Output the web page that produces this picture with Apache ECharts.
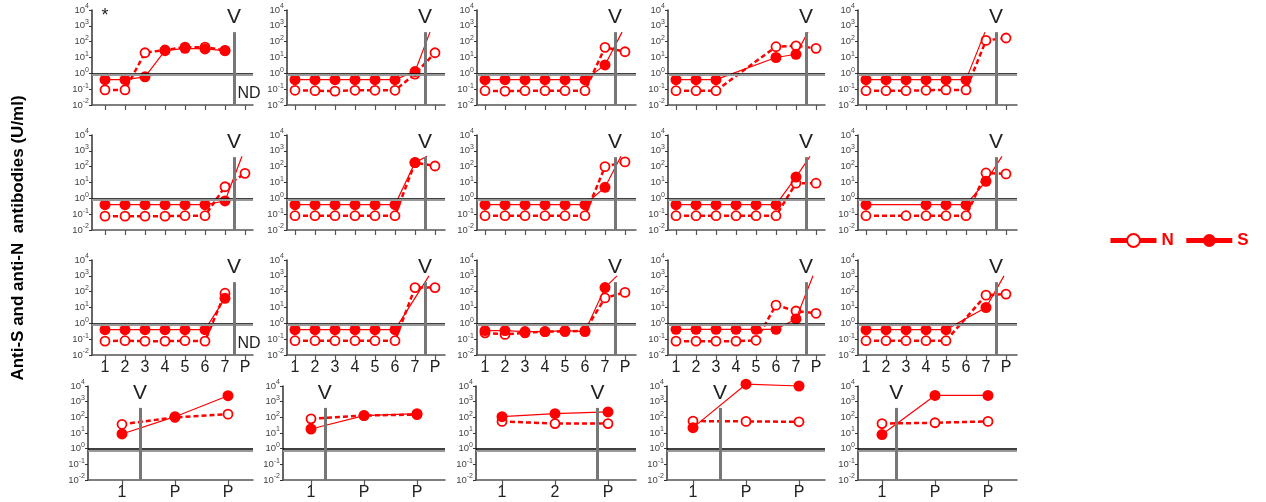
<!DOCTYPE html>
<html>
<head>
<meta charset="utf-8">
<script src="https://cdn.jsdelivr.net/npm/echarts@6/dist/echarts.min.js"></script>
<style>html,body{margin:0;background:#fff}#chart{width:1266px;height:502px}</style>
</head>
<body>
<div id="chart"></div>
<script>
// x labels: days 1..7 and P (post), P is drawn at position 8
var dayLabels = ['1', '2', '3', '4', '5', '6', '7', 'P'];
var postLabels = [['1', 'P', 'P'], ['1', 'P', 'P'], ['1', '2', 'P'], ['1', 'P', 'P'], ['1', 'P', 'P']];

// rows 1-3, 15 panels, values for days 1..7 and P (null = no sample)
var sDays = [
  [0.4, 0.4, 0.6, 27, 38, 35, 27, null],
  [0.4, 0.4, 0.4, 0.4, 0.4, 0.4, 1.3, null],
  [0.4, 0.4, 0.4, 0.4, 0.4, 0.4, 3.4, null],
  [0.4, 0.4, 0.4, null, null, 10, 16, null],
  [0.4, 0.4, 0.4, 0.4, 0.4, 0.4, null, null],
  [0.4, 0.4, 0.4, 0.4, 0.4, 0.4, 0.68, null],
  [0.4, 0.4, 0.4, 0.4, 0.4, 0.4, 180, null],
  [0.4, 0.4, 0.4, 0.4, 0.4, 0.4, 5, null],
  [0.4, 0.4, 0.4, 0.4, 0.4, 0.4, 22, null],
  [0.4, null, null, 0.4, 0.4, 0.4, 12, null],
  [0.4, 0.4, 0.4, 0.4, 0.4, 0.4, 38, null],
  [0.4, 0.4, 0.4, 0.4, 0.4, 0.4, null, null],
  [0.35, 0.35, 0.3, 0.3, 0.35, 0.3, 180, null],
  [0.42, 0.42, 0.42, 0.42, 0.42, 0.42, 1.9, null],
  [0.4, 0.4, 0.4, 0.4, 0.4, null, 10, null]
];
var nDays = [
  [0.09, 0.09, 20, 30, 45, 45, 28, null],
  [0.085, 0.08, 0.075, 0.085, 0.085, 0.085, 0.9, 20],
  [0.08, 0.075, 0.08, 0.08, 0.08, 0.08, 44, 23],
  [0.08, 0.08, 0.08, null, null, 48, 55, 38],
  [0.08, 0.08, 0.08, 0.085, 0.09, 0.09, 120, 170],
  [0.075, 0.075, 0.075, 0.075, 0.08, 0.08, 5.4, 38],
  [0.08, 0.08, 0.08, 0.08, 0.08, 0.08, 180, 110],
  [0.08, 0.08, 0.08, 0.08, 0.08, 0.08, 100, 200],
  [0.08, 0.08, 0.08, 0.08, 0.08, 0.08, 9, 9],
  [0.08, null, 0.08, 0.08, 0.08, 0.08, 40, 35],
  [0.075, 0.08, 0.075, 0.075, 0.08, 0.075, 80, null],
  [0.08, 0.08, 0.08, 0.08, 0.08, 0.08, 180, 180],
  [0.25, 0.2, 0.25, 0.3, 0.3, 0.35, 40, 90],
  [0.075, 0.075, 0.075, 0.075, 0.085, 14, 6, 4.3],
  [0.08, 0.08, 0.08, 0.08, 0.08, null, 60, 70]
];
// where the off-scale anti-S line leaves the panel [x, value]
var sExit = [
  null, [7.75, 400], [7.85, 400], [7.6, 400], [6.95, 400],
  [7.85, 450], [7.6, 450], [7.8, 450], [7.7, 450], [7.8, 450],
  null, [7.7, 1000], [7.6, 1000], [7.85, 1000], [7.9, 1000]
];
// row 4, three samples each
var sPost = [[8.7, 110, 2400], [18, 130, 170], [110, 170, 220], [22, 13000, 10000], [8, 2500, 2500]];
var nPost = [[36, 100, 160], [80, 130, 150], [55, 40, 40], [58, 55, 52], [40, 45, 55]];
// vaccination mark position
var vDays = [7.45, 7.5, 7.5, 7.5, 7.5];
var vPost = [1.34, 1.26, 2.8, 1.51, 1.27];

var RED = '#ff0000';
var FONT = 'Arial, "Liberation Sans", sans-serif';

var rowTop = [10, 135, 260, 386];
var rowH = [95, 95, 95, 94];
var colLeft = [92, 287, 477, 668, 858];
var colRight = [253, 445, 636, 825, 1017];
var colTick1 = [105, 295, 485, 676, 866];
var colLeft4 = [88, 283, 476, 667, 858];
var colTick14 = [122, 311, 502, 693, 882];

var grid = [], xAxis = [], yAxis = [], series = [];

function yLabel(v) {
  var e = Math.round(Math.log10(v));
  return '{b|10}{s|' + e + '}';
}

function addPanel(idx, row, col, sVals, nVals, exitPt, vx, labels, ticks, step, left, tick1, extra) {
  var right = colRight[col];
  grid.push({left: left, top: rowTop[row], width: right - left, height: rowH[row]});
  xAxis.push({
    gridIndex: idx, type: 'value',
    min: 1 - (tick1 - left) / step, max: 1 + (right - tick1) / step,
    axisLine: {lineStyle: {color: '#555', width: 1.5}},
    axisTick: {customValues: ticks, length: 5, lineStyle: {color: '#555', width: 1.2}},
    axisLabel: {
      show: row >= 2, customValues: ticks, margin: 5,
      fontSize: 16, color: '#222', fontFamily: FONT,
      formatter: function (v) { return labels[Math.round(v) - 1]; }
    },
    splitLine: {show: false}
  });
  yAxis.push({
    gridIndex: idx, type: 'log', logBase: 10, min: 0.01, max: 10000,
    axisLine: {show: true, lineStyle: {color: '#333', width: 1.5}},
    axisTick: {show: true, length: 3, lineStyle: {color: '#333'}},
    minorTick: {show: false},
    axisLabel: {
      margin: 3, formatter: yLabel,
      rich: {
        b: {fontSize: 9.5, color: '#444', fontFamily: FONT},
        s: {fontSize: 7, color: '#444', fontFamily: FONT, padding: [0, 0, 7, 0]}
      }
    },
    splitLine: {show: false}
  });
  var sData = [], nData = [];
  for (var i = 0; i < sVals.length; i++) {
    sData.push([ticks[i], sVals[i]]);
    nData.push([ticks[i], nVals[i]]);
  }
  if (exitPt) sData.push({value: exitPt, symbol: 'none'});
  var marks = [
    {yAxis: 1, lineStyle: {color: '#000', width: 1.5, type: 'solid'}},
    {yAxis: 0.78, lineStyle: {color: '#999', width: 2, type: 'solid'}},
    [{coord: [vx, 0.01], lineStyle: {color: '#777', width: 3, type: 'solid'},
      label: {show: true, position: 'end', formatter: 'V', fontSize: 21, color: '#222', fontFamily: FONT, distance: 4}},
     {coord: [vx, 400]}]
  ];
  series.push({
    type: 'line', name: 'N', xAxisIndex: idx, yAxisIndex: idx,
    data: nData, connectNulls: true, clip: false,
    symbol: 'circle', symbolSize: 9,
    itemStyle: {color: '#fff', borderColor: RED, borderWidth: 1.8},
    lineStyle: {color: RED, width: 2.5, type: [5, 3]},
    markLine: {silent: true, symbol: 'none', animation: false, label: {show: false}, data: marks},
    markPoint: extra ? {silent: true, symbol: 'circle', symbolSize: 1,
      itemStyle: {color: 'rgba(0,0,0,0)', borderWidth: 0}, animation: false, data: extra} : undefined,
    animation: false, z: 2
  });
  series.push({
    type: 'line', name: 'S', xAxisIndex: idx, yAxisIndex: idx,
    data: sData, connectNulls: true, clip: false,
    symbol: 'circle', symbolSize: 11,
    itemStyle: {color: RED},
    lineStyle: {color: RED, width: 1.2},
    animation: false, z: 3
  });
}

var idx = 0;
var dayTicks = [1, 2, 3, 4, 5, 6, 7, 8];
for (var r = 0; r < 3; r++) {
  for (var c = 0; c < 5; c++) {
    var k = r * 5 + c;
    var extra = null;
    var lbl = {show: true, position: 'inside', fontSize: 16, color: '#222', fontFamily: FONT};
    if (k === 0) extra = [{coord: [8.2, 0.055], label: Object.assign({}, lbl, {formatter: 'ND'})},
                          {coord: [1, 4000], label: Object.assign({}, lbl, {formatter: '*', fontSize: 18})}];
    if (k === 10) extra = [{coord: [8.2, 0.055], label: Object.assign({}, lbl, {formatter: 'ND'})}];
    addPanel(idx, r, c, sDays[k], nDays[k], sExit[k], vDays[c], dayLabels, dayTicks, 20,
      colLeft[c], colTick1[c], extra);
    idx++;
  }
}
for (var c = 0; c < 5; c++) {
  addPanel(idx, 3, c, sPost[c], nPost[c], null, vPost[c], postLabels[c], [1, 2, 3], 53,
    colLeft4[c], colTick14[c], null);
  idx++;
}

var chart = echarts.init(document.getElementById('chart'));
chart.setOption({
  animation: false,
  grid: grid, xAxis: xAxis, yAxis: yAxis, series: series,
  legend: {
    left: 1103, top: 227, itemWidth: 46, itemHeight: 16, itemGap: 10,
    data: ['N', 'S'],
    lineStyle: {type: 'solid', width: 5},
    textStyle: {color: RED, fontSize: 17, fontWeight: 'bold', fontFamily: FONT}
  },
  graphic: [{
    type: 'text', x: 18, y: 238, rotation: Math.PI / 2,
    style: {text: 'Anti-S and anti-N  antibodies (U/ml)', fontSize: 17, fontWeight: 'bold',
      fill: '#000', fontFamily: FONT, align: 'center', verticalAlign: 'middle'}
  }]
});
</script>
</body>
</html>
